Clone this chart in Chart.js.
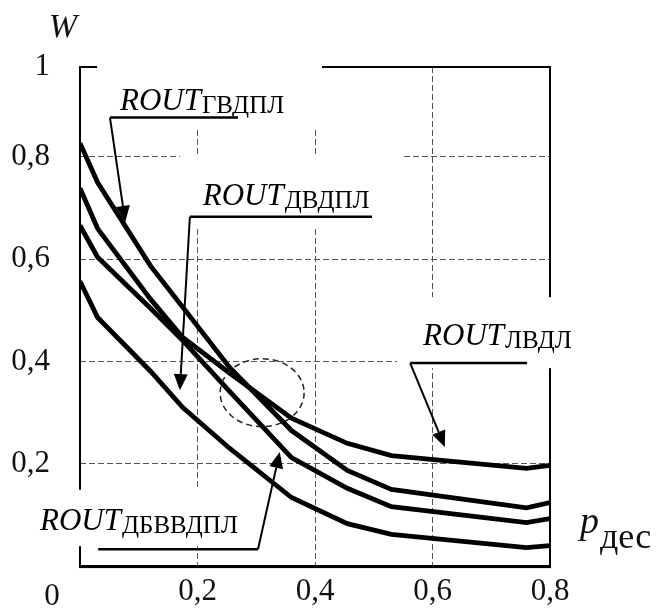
<!DOCTYPE html>
<html>
<head>
<meta charset="utf-8">
<script src="https://cdn.jsdelivr.net/npm/chart.js@4.4.1/dist/chart.umd.min.js"></script>
<style>
  html, body { margin: 0; padding: 0; background: #fff; }
  #wrap { width: 661px; height: 610px; }
  canvas { display: block; }
</style>
</head>
<body>
<div id="wrap"><canvas id="chart"></canvas></div>
<script>
// p_дес at the corners of the polylines
const pValues     = [0, 0.03, 0.12, 0.175, 0.255, 0.36, 0.455, 0.53, 0.76, 0.8];
// W for each curve
const routGvdpl   = [0.827, 0.750, 0.587, 0.506, 0.388, 0.265, 0.187, 0.150, 0.114, 0.124];
const routLvdl    = [0.739, 0.660, 0.522, 0.447, 0.377, 0.289, 0.240, 0.216, 0.191, 0.197];
const routDbvvdpl = [0.666, 0.604, 0.504, 0.441, 0.341, 0.212, 0.152, 0.116, 0.085, 0.093];
const routDvdpl   = [0.557, 0.486, 0.381, 0.310, 0.230, 0.134, 0.083, 0.062, 0.036, 0.040];

const xTicks = [0, 0.2, 0.4, 0.6, 0.8];
const xTickLabels = ['', '0,2', '0,4', '0,6', '0,8'];
const yTicks = [0, 0.2, 0.4, 0.6, 0.8, 0.976];
const yTickLabels = ['', '0,2', '0,4', '0,6', '0,8', '1'];
const yTop = 0.976;

// callouts, everything in axis units: text start, shelf [p1, p2, W], arrow tip, blank area behind the text
const notes = [
  { sub: 'ГВДПЛ',   text: [0.068, 0.892],  shelf: [0.051, 0.269, 0.877], tip: [0.077, 0.673], fromRight: false, clear: [0.029, 0.412, 0.994, 0.853] },
  { sub: 'ДВДПЛ',   text: [0.209, 0.706],  shelf: [0.187, 0.497, 0.683], tip: [0.170, 0.344], fromRight: false, clear: [0.170, 0.550, 0.804, 0.661] },
  { sub: 'ЛВДЛ',    text: [0.584, 0.432],  shelf: [0.562, 0.761, 0.397], tip: [0.621, 0.233], fromRight: false, clear: [0.540, 0.817, 0.526, 0.387] },
  { sub: 'ДБВВДПЛ', text: [-0.068, 0.070], shelf: [0.031, 0.303, 0.033], tip: [0.340, 0.223], fromRight: true,  clear: [-0.085, 0.281, 0.149, 0.039] }
];
// dashed ring round the crossing: centre and radii
const ring = { p: 0.310, w: 0.339, rp: 0.0715, rw: 0.0665 };

const serif = "'Liberation Serif', 'Times New Roman', serif";
Chart.defaults.font.family = serif;

function arrow(ctx, x0, y0, x1, y1) {
  const ang = Math.atan2(y1 - y0, x1 - x0);
  const len = 16, half = 7;
  const bx = x1 - len * Math.cos(ang), by = y1 - len * Math.sin(ang);
  ctx.beginPath();
  ctx.moveTo(x0, y0);
  ctx.lineTo(bx, by);
  ctx.stroke();
  ctx.beginPath();
  ctx.moveTo(x1, y1);
  ctx.lineTo(bx + half * Math.sin(ang), by - half * Math.cos(ang));
  ctx.lineTo(bx - half * Math.sin(ang), by + half * Math.cos(ang));
  ctx.closePath();
  ctx.fill();
}

// bottom side of the frame, the p axis
function pAxis(ctx, a) {
  ctx.fillStyle = '#000';
  ctx.fillRect(a.left - 1, a.bottom - 1, a.right - a.left + 2, 3);
}

const decor = {
  id: 'decor',
  beforeDatasetsDraw(chart) {
    const { ctx, chartArea: a, scales: { x, y } } = chart;
    ctx.save();
    // the frame round the plot
    ctx.strokeStyle = '#000';
    ctx.lineWidth = 2;
    ctx.strokeRect(a.left, a.top, a.right - a.left, a.bottom - a.top);
    pAxis(ctx, a);
    // grid and frame stop where the callout texts sit
    ctx.fillStyle = '#fff';
    notes.forEach(n => {
      const x1 = x.getPixelForValue(n.clear[0]), x2 = x.getPixelForValue(n.clear[1]);
      const y1 = y.getPixelForValue(n.clear[2]), y2 = y.getPixelForValue(n.clear[3]);
      ctx.fillRect(x1, y1, x2 - x1, y2 - y1);
    });
    ctx.restore();
  },
  afterDraw(chart) {
    const { ctx, chartArea: a, scales: { x, y } } = chart;
    ctx.save();

    pAxis(ctx, a);

    // dashed ellipse
    ctx.strokeStyle = '#222';
    ctx.lineWidth = 1.5;
    ctx.setLineDash([6, 4]);
    ctx.beginPath();
    ctx.ellipse(x.getPixelForValue(ring.p), y.getPixelForValue(ring.w),
      x.getPixelForValue(ring.p + ring.rp) - x.getPixelForValue(ring.p),
      y.getPixelForValue(ring.w) - y.getPixelForValue(ring.w + ring.rw), 0, 0, Math.PI * 2);
    ctx.stroke();
    ctx.setLineDash([]);

    ctx.strokeStyle = '#000';
    ctx.fillStyle = '#000';
    notes.forEach(n => {
      const sx1 = x.getPixelForValue(n.shelf[0]), sx2 = x.getPixelForValue(n.shelf[1]);
      const sy = y.getPixelForValue(n.shelf[2]);
      ctx.lineWidth = 2.5;
      ctx.beginPath();
      ctx.moveTo(sx1, sy);
      ctx.lineTo(sx2, sy);
      ctx.stroke();
      ctx.lineWidth = 2;
      arrow(ctx, n.fromRight ? sx2 : sx1, sy, x.getPixelForValue(n.tip[0]), y.getPixelForValue(n.tip[1]));

      const tx = x.getPixelForValue(n.text[0]), ty = y.getPixelForValue(n.text[1]);
      ctx.textAlign = 'left';
      ctx.textBaseline = 'alphabetic';
      ctx.font = 'italic 31px ' + serif;
      ctx.fillText('ROUT', tx, ty);
      const w = ctx.measureText('ROUT').width;
      ctx.font = '25px ' + serif;
      ctx.fillText(n.sub, tx + w + 1, ty + 3);
    });

    // axis names and the shared origin label
    ctx.fillStyle = '#111';
    ctx.textAlign = 'center';
    ctx.font = 'italic 34px ' + serif;
    ctx.fillText('W', a.left - 17, a.top - 30);
    ctx.font = '31px ' + serif;
    ctx.fillText('0', a.left - 28, a.bottom + 39);
    ctx.textAlign = 'left';
    ctx.font = 'italic 38px ' + serif;
    const px = a.right + 30, py = a.bottom - 33;
    ctx.fillText('p', px, py);
    const pw = ctx.measureText('p').width;
    ctx.font = '36px ' + serif;
    ctx.fillText('дес', px + pw + 1, py + 15);

    ctx.restore();
  }
};

const series = [
  { name: 'ROUT ГВДПЛ', values: routGvdpl },
  { name: 'ROUT ЛВДЛ', values: routLvdl },
  { name: 'ROUT ДБВВДПЛ', values: routDbvvdpl },
  { name: 'ROUT ДВДПЛ', values: routDvdpl }
];

new Chart(document.getElementById('chart'), {
  type: 'line',
  data: {
    datasets: series.map(s => ({
      label: s.name,
      data: pValues.map((p, i) => ({ x: p, y: s.values[i] })),
      borderColor: '#000',
      borderWidth: 4.8,
      pointRadius: 0,
      tension: 0,
      fill: false
    }))
  },
  options: {
    responsive: true,
    maintainAspectRatio: false,
    animation: false,
    layout: { padding: { left: 0, right: 111, top: 67, bottom: 0 } },
    plugins: { legend: { display: false }, tooltip: { enabled: false } },
    scales: {
      x: {
        type: 'linear',
        min: 0,
        max: 0.8,
        afterBuildTicks: s => { s.ticks = xTicks.map(v => ({ value: v })); },
        afterFit: s => { s.height = 39; },
        grid: {
          color: c => (c.tick && c.tick.value > 0 && c.tick.value < 0.8) ? '#555' : 'rgba(0,0,0,0)',
          lineWidth: 1,
          drawTicks: false
        },
        border: { display: false, dash: [6, 3] },
        ticks: {
          callback: (v, i) => xTickLabels[i],
          font: { size: 31 },
          color: '#111',
          padding: 7,
          maxRotation: 0,
          autoSkip: false
        }
      },
      y: {
        min: 0,
        max: yTop,
        afterBuildTicks: s => { s.ticks = yTicks.map(v => ({ value: v })); },
        afterFit: s => { s.width = 80; },
        grid: {
          color: c => (c.tick && c.tick.value > 0 && c.tick.value < 0.9) ? '#555' : 'rgba(0,0,0,0)',
          lineWidth: 1,
          drawTicks: false
        },
        border: { display: false, dash: [6, 3] },
        ticks: {
          callback: (v, i) => yTickLabels[i],
          font: { size: 31, lineHeight: 0.9 },
          color: '#111',
          padding: 30,
          autoSkip: false
        }
      }
    }
  },
  plugins: [decor]
});
</script>
</body>
</html>
